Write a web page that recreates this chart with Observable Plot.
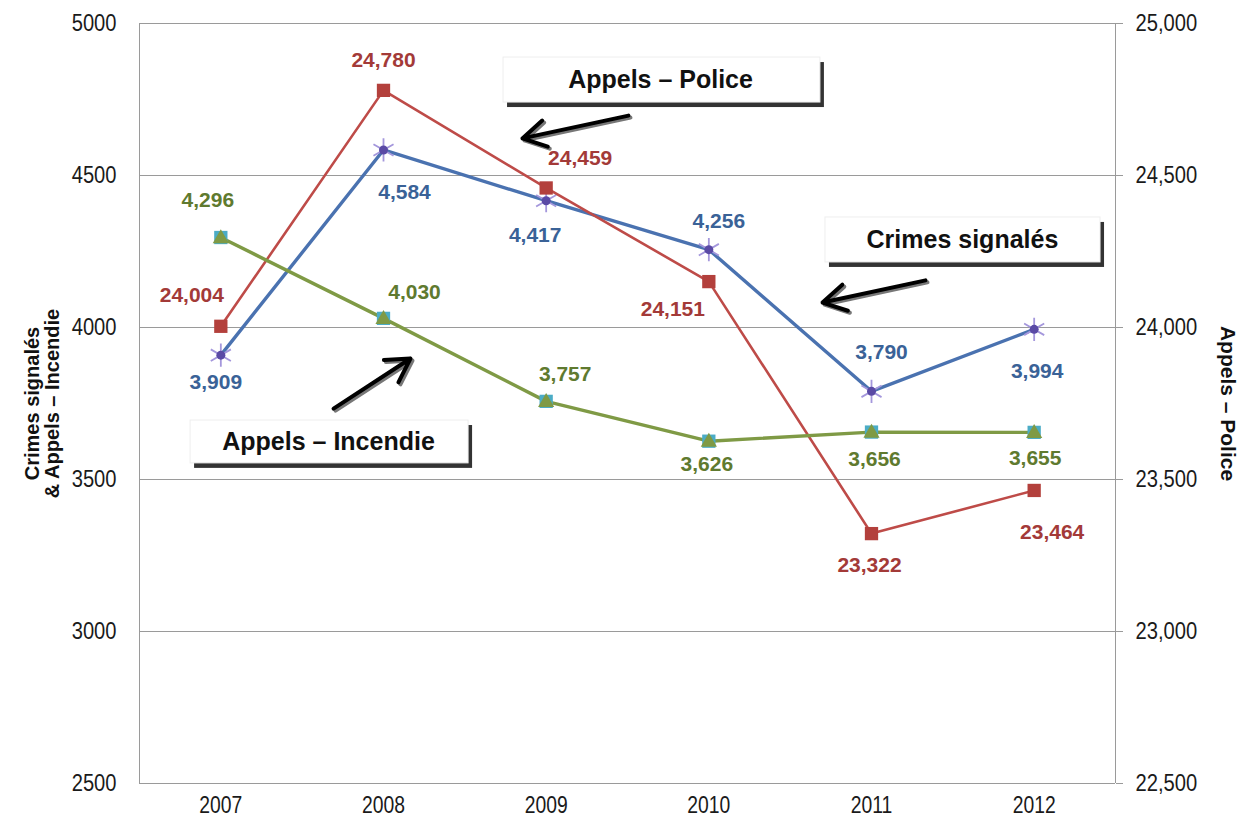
<!DOCTYPE html>
<html><head><meta charset="utf-8">
<script src="https://cdn.jsdelivr.net/npm/d3@7"></script>
<script src="https://cdn.jsdelivr.net/npm/@observablehq/plot@0.6"></script>
<style>body{margin:0;background:#fff}</style>
</head><body><div id="chart"></div>
<script>
const years = [2007, 2008, 2009, 2010, 2011, 2012];
const crimes = [3909, 4584, 4417, 4256, 3790, 3994];          // left axis
const incendie = [4296, 4030, 3757, 3626, 3656, 3655];        // left axis
const police = [24004, 24780, 24459, 24151, 23322, 23464];    // right axis
const leftTicks = [2500, 3000, 3500, 4000, 4500, 5000];
const rightOffset = 20000; // right axis value = left axis value + 20000

// label offsets in pixels [dx, dy]
const crimesLabelOff = [[-5,27],[21,42],[-11,35],[10,-28],[10,-39],[3,42]];
const incendieLabelOff = [[-13,-37],[31,-26],[19,-27],[-2,23],[3,27],[1,26]];
const policeLabelOff = [[-29,-31],[0,-30],[34,-30],[-36,28],[-2,32],[18,42]];

// callouts in data units
const callouts = [
  {text:"Appels – Police", x1:2008.738, x2:2010.686, y1:4888, y2:4740, tx:2009.703, ty:4813,
   ax1:2009.506, ay1:4697, ax2:2008.854, ay2:4622},
  {text:"Crimes signalés", x1:2010.717, x2:2012.408, y1:4362, y2:4214, tx:2011.559, ty:4287,
   ax1:2011.332, ay1:4155, ax2:2010.699, ay2:4082},
  {text:"Appels – Incendie", x1:2006.814, x2:2008.523, y1:3694, y2:3553, tx:2007.662, ty:3622,
   ax1:2007.693, ay1:3733, ax2:2008.166, ay2:3898}
];

const fmt = d3.format(",");
const rowsC = years.map((year,i)=>({year, v:crimes[i], label:fmt(crimes[i])}));
const rowsI = years.map((year,i)=>({year, v:incendie[i], label:fmt(incendie[i])}));
const rowsP = years.map((year,i)=>({year, v:police[i]-rightOffset, label:fmt(police[i])}));

const blue = "#4a72b0", red = "#be4b48", green = "#7f9a45";
const blueT = "#3a6297", redT = "#a33a38", greenT = "#5f7a2f";

function labels(rows, offs, color){
  return rows.map((r,i)=>Plot.text([r], {x:"year", y:"v", text:"label", dx:offs[i][0], dy:offs[i][1],
    fill:color, fontSize:21, fontWeight:"bold", ariaLabel:"datalabel"}));
}

const chart = Plot.plot({
  width:1249, height:819,
  marginLeft:139, marginRight:134, marginTop:23, marginBottom:36,
  x:{domain:[2006.5, 2012.5]},
  y:{domain:[2500, 5000]},
  style:{fontFamily:"'Liberation Sans', Arial, sans-serif", background:"#fff", color:"#222"},
  marks:[
    Plot.gridY({ticks:leftTicks, stroke:"#9a9a9a", strokeOpacity:1}),
    Plot.ruleX([2006.5, 2012.5], {stroke:"#9a9a9a"}),
    Plot.ruleY([2500], {stroke:"#9a9a9a"}),
    Plot.axisX({ticks:years, tickFormat:d=>String(d), tickSize:0, tickPadding:13, fontSize:23, fill:"#1a1a1a"}),
    Plot.axisY({anchor:"left", ticks:leftTicks, tickFormat:d=>String(d), tickSize:0, tickPadding:23, fontSize:24, label:null, fill:"#1a1a1a"}),
    Plot.axisY({anchor:"right", ticks:leftTicks, tickFormat:d=>fmt(d+rightOffset), tickSize:7, tickPadding:13, fontSize:24, label:null, stroke:"#9a9a9a", fill:"#1a1a1a"}),
    Plot.text(["Crimes signalés\n& Appels – Incendie"], {frameAnchor:"left", rotate:-90, dx:-97, dy:0, lineAnchor:"middle",
      textAnchor:"middle", fontSize:20, fontWeight:"bold", fill:"#111", lineHeight:1.0}),
    Plot.text(["Appels – Police"], {frameAnchor:"right", rotate:90, dx:112, lineAnchor:"middle",
      textAnchor:"middle", fontSize:21, fontWeight:"bold", fill:"#111"}),
    // callouts
    Plot.rect(callouts, {x1:"x1", x2:"x2", y1:"y1", y2:"y2", fill:"#333", dx:4, dy:5, ariaLabel:"shadow"}),
    Plot.rect(callouts, {x1:"x1", x2:"x2", y1:"y1", y2:"y2", fill:"#fff", stroke:"#eee"}),
    Plot.text(callouts, {x:"tx", y:"ty", text:"text", fontSize:25, fontWeight:"bold", fill:"#111"}),
    Plot.arrow(callouts, {x1:"ax1", y1:"ay1", x2:"ax2", y2:"ay2", stroke:"#777", strokeWidth:4, headLength:10, dx:2, dy:2, ariaLabel:"shadow"}),
    Plot.arrow(callouts, {x1:"ax1", y1:"ay1", x2:"ax2", y2:"ay2", stroke:"#000", strokeWidth:4, headLength:10}),
    // series
    Plot.line(rowsC, {x:"year", y:"v", stroke:blue, strokeWidth:3.4}),
    Plot.dot(rowsC, {x:"year", y:"v", symbol:"asterisk", r:11, stroke:"#a497dc", strokeWidth:1.8}),
    Plot.dot(rowsC, {x:"year", y:"v", r:4.5, fill:"#5a4aa5"}),
    Plot.line(rowsP, {x:"year", y:"v", stroke:red, strokeWidth:2.6}),
    Plot.dot(rowsP, {x:"year", y:"v", symbol:"square", r:7.5, fill:"#b3403c"}),
    Plot.line(rowsI, {x:"year", y:"v", stroke:green, strokeWidth:3.4}),
    Plot.dot(rowsI, {x:"year", y:"v", symbol:"square", r:7.5, fill:"#4bacc6"}),
    Plot.dot(rowsI, {x:"year", y:"v", symbol:"triangle", r:6, fill:green, dy:1}),
    ...labels(rowsC, crimesLabelOff, blueT),
    ...labels(rowsI, incendieLabelOff, greenT),
    ...labels(rowsP, policeLabelOff, redT)
  ]
});

const svg = d3.select(chart);
const defs = svg.insert("defs", ":first-child");
defs.append("filter").attr("id","blurShadow").attr("x","-20%").attr("y","-20%").attr("width","140%").attr("height","140%")
  .append("feGaussianBlur").attr("stdDeviation", 2.5);
svg.selectAll('g[aria-label="shadow"]').attr("filter","url(#blurShadow)").attr("opacity",0.8);
document.getElementById("chart").appendChild(chart);

// horizontally condensed glyphs, as in the reference rendering
function condense(selector, factor){
  svg.selectAll(selector).each(function(){
    const w = this.getComputedTextLength();
    if (w > 0) { this.setAttribute("textLength", (w*factor).toFixed(1)); this.setAttribute("lengthAdjust","spacingAndGlyphs"); }
  });
}
condense('g[aria-label="x-axis tick label"] text', 0.84);
condense('g[aria-label="y-axis tick label"] text', 0.84);
condense('g[aria-label="datalabel"] text', 0.9);
</script></body></html>
